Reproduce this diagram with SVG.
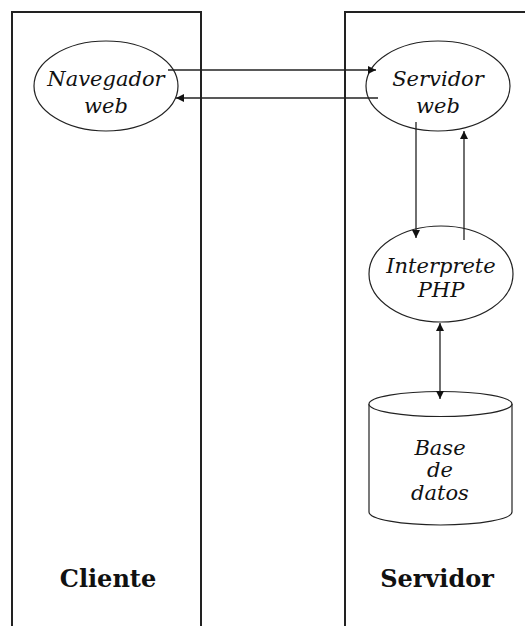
<svg xmlns="http://www.w3.org/2000/svg" width="525" height="626" viewBox="0 0 525 626">
<style>
.box{fill:none;stroke:#222;stroke-width:2}
.shape{fill:#fff;stroke:#222;stroke-width:1.2}
.lbl{font-family:"DejaVu Serif",serif;font-style:italic;font-size:21px;fill:#111;text-anchor:middle}
.title{font-family:"DejaVu Serif",serif;font-weight:bold;font-size:24px;fill:#111;text-anchor:middle}
.conn{stroke:#222;fill:none;stroke-width:1.3}
</style>
<defs>
<marker id="ah" viewBox="0 0 8 8" refX="8" refY="4" markerWidth="8" markerHeight="8" markerUnits="userSpaceOnUse" orient="auto-start-reverse">
<path d="M0,0 L8,4 L0,8 z" fill="#111"/>
</marker>
</defs>
<rect width="525" height="626" fill="#fff"/>
<g id="cliente">
<path class="box" d="M12,626 V12 H201 V626"/>
<text class="title" x="108" y="587">Cliente</text>
</g>
<g id="servidor">
<path class="box" d="M345,626 V12 H526"/>
<text class="title" x="437" y="587">Servidor</text>
</g>
<g id="navegador">
<ellipse class="shape" cx="106" cy="86" rx="72" ry="45"/>
<text class="lbl" x="106" y="86">Navegador</text>
<text class="lbl" x="106" y="113">web</text>
</g>
<g id="servidorweb">
<ellipse class="shape" cx="438" cy="86" rx="72" ry="45"/>
<text class="lbl" x="438" y="86">Servidor</text>
<text class="lbl" x="438" y="113">web</text>
</g>
<g id="interprete">
<ellipse class="shape" cx="441" cy="274" rx="72" ry="48"/>
<text class="lbl" x="441" y="273">Interprete</text>
<text class="lbl" x="441" y="297">PHP</text>
</g>
<g id="basedatos">
<path class="shape" d="M369,404 V512 A71.5,13 0 0 0 512,512 V404"/>
<ellipse class="shape" cx="440.5" cy="404" rx="71.5" ry="12.5"/>
<text class="lbl" x="440" y="455">Base</text>
<text class="lbl" x="440" y="477">de</text>
<text class="lbl" x="440" y="500">datos</text>
</g>
<g id="connectors">
<line class="conn" x1="168" y1="70" x2="376" y2="70" stroke-width="1.8" marker-end="url(#ah)"/>
<line class="conn" x1="378" y1="98" x2="176" y2="98" marker-end="url(#ah)"/>
<line class="conn" x1="416" y1="122" x2="416" y2="238" marker-end="url(#ah)"/>
<line class="conn" x1="464" y1="240" x2="464" y2="131" marker-end="url(#ah)"/>
<line class="conn" x1="440" y1="323" x2="440" y2="399" stroke-width="2" marker-start="url(#ah)" marker-end="url(#ah)"/>
</g>
</svg>
